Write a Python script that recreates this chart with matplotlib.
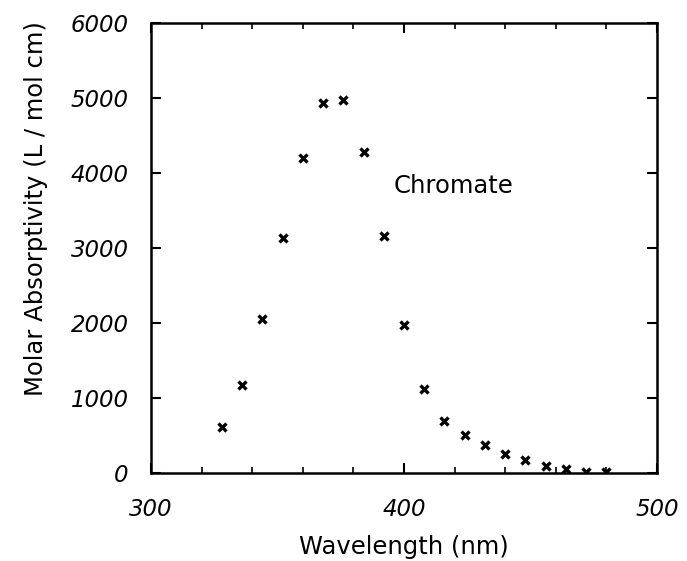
import matplotlib
matplotlib.use("Agg")
import matplotlib.pyplot as plt
from matplotlib.ticker import MultipleLocator

wavelength = [328, 336, 344, 352, 360, 368, 376, 384, 392, 400,
              408, 416, 424, 432, 440, 448, 456, 464, 472, 480]
absorptivity = [610, 1175, 2055, 3140, 4195, 4935, 4970, 4280, 3160, 1975,
                1115, 695, 510, 378, 260, 176, 95, 52, 20, 10]
x_ticks = [300, 400, 500]
y_ticks = [0, 1000, 2000, 3000, 4000, 5000, 6000]

plt.rcParams['font.family'] = ['DejaVu Sans']

W, H = 687, 561
fig = plt.figure(figsize=(W/100, H/100), dpi=100)
L, R, T, B = 151, 657, 23, 473
ax = fig.add_axes([L/W, 1-B/H, (R-L)/W, (B-T)/H])

ax.plot(wavelength, absorptivity, linestyle='none', marker='x',
        markersize=5.5, markeredgewidth=2.4, color='black')

ax.set_xlim(300, 500)
ax.set_ylim(0, 6000)
ax.set_xticks(x_ticks)
ax.set_yticks(y_ticks)
ax.xaxis.set_minor_locator(MultipleLocator(20))
ax.tick_params(which='both', direction='in', top=True, right=True, color='black')
ax.tick_params(which='major', length=7, width=1.5)
ax.tick_params(which='minor', length=4, width=1.2)
ax.tick_params(axis='x', which='major', pad=18, labelsize=16.5)
ax.tick_params(axis='y', which='major', pad=16, labelsize=16.5)
for lab in ax.get_xticklabels() + ax.get_yticklabels():
    lab.set_fontstyle('italic')

for sp in ax.spines.values():
    sp.set_linewidth(1.8)

ax.set_xlabel('Wavelength (nm)', fontsize=17.5)
ax.set_ylabel('Molar Absorptivity (L / mol cm)', fontsize=17.5)
ax.xaxis.set_label_coords((404 - L)/(R - L), -(547 - B)/(B - T))
ax.xaxis.label.set_va('center')
ax.yaxis.set_label_coords(-(L - 36)/(R - L), (B - 209)/(B - T))
ax.yaxis.label.set_va('center')

ax.text(396, 3830, 'Chromate', fontsize=17.5, va='center', ha='left')

fig.savefig('out.png', dpi=100)
